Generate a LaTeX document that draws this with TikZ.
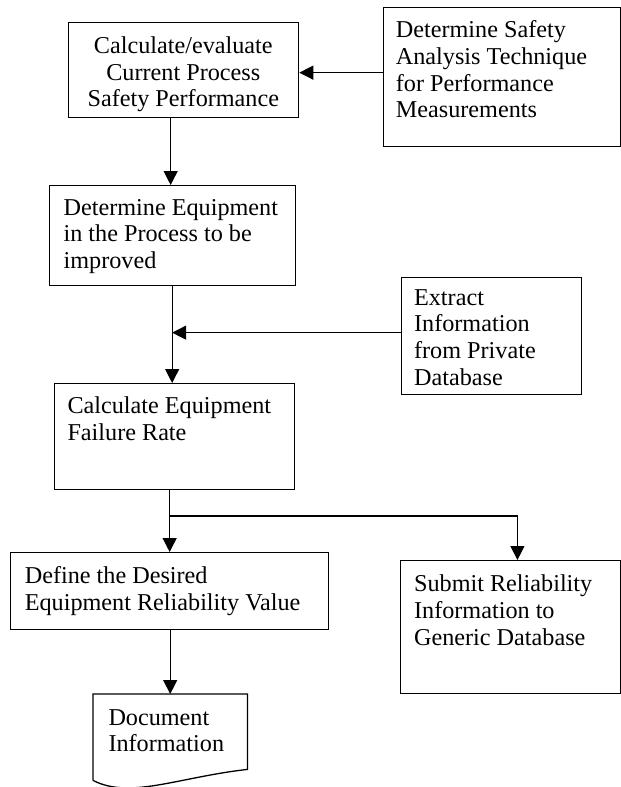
\documentclass[tikz,border=0pt]{standalone}
\usepackage{fontspec}
\setmainfont{Liberation Serif}
\usetikzlibrary{arrows.meta}
\begin{document}
\begin{tikzpicture}[x=1pt, y=-1pt,
  box/.style={draw, line width=1.3pt, inner sep=0pt, anchor=north west},
  txt/.style={inner sep=0pt, align=left, anchor=north west,
    font=\fontsize{24.2}{26.7}\selectfont},
  ctxt/.style={txt, align=center, anchor=north},
  flow/.style={line width=1.2pt, -{Triangle[length=14pt, width=14pt]}},
  link/.style={line width=1.2pt}]
\useasboundingbox (0,0) rectangle (621,787);

% process boxes
\node[box, minimum width=230pt, minimum height=95pt]  (b1) at (68,22) {};
\node[box, minimum width=237pt, minimum height=139pt] (b2) at (383,7) {};
\node[box, minimum width=246pt, minimum height=100pt] (b3) at (49,185) {};
\node[box, minimum width=240pt, minimum height=106pt] (b4) at (53.5,383) {};
\node[box, minimum width=180pt, minimum height=117pt] (b5) at (401,277) {};
\node[box, minimum width=318pt, minimum height=77pt]  (b6) at (10,552) {};
\node[box, minimum width=220pt, minimum height=133pt] (b7) at (400,560) {};

% document symbol (wavy bottom)
\node[inner sep=0pt, anchor=north west, minimum width=154pt, minimum height=86pt] (doc) at (93,694) {};
\draw[line width=1.3pt] (doc.south west) -- (doc.north west) -- (doc.north east)
  -- ([yshift=11pt]doc.south east)
  .. controls ([shift={(-70,-3)}]doc.south east) and ([shift={(37,19)}]doc.south west) .. (doc.south west);

% texts
\node[ctxt] (t1) at (183.3,34.6) {\strut Calculate/evaluate\\Current Process\\Safety Performance};
\node[txt] (t2) at (395.7,19) {\strut Determine Safety\\Analysis Technique\\for Performance\\Measurements};
\node[txt] (t3) at (63.4,196.3) {\strut Determine Equipment\\in the Process to be\\improved};
\node[txt] (t4) at (67.3,394.6) {\strut Calculate Equipment\\Failure Rate};
\node[txt] (t5) at (413.9,286.3) {\strut Extract\\Information\\from Private\\Database};
\node[txt] (t6) at (24.6,564.6) {\strut Define the Desired\\Equipment Reliability Value};
\node[txt] (t7) at (413.9,573) {\strut Submit Reliability\\Information to\\Generic Database};
\node[txt] (t8) at (108.3,706.3) {\strut Document\\Information};

% connectors
\draw[flow] ([yshift=4.5pt]b2.west) coordinate (s1) -- (s1 -| b1.east);
\draw[flow] ([xshift=-2pt]b3.north |- b1.south) -- ([xshift=-2pt]b3.north);
\draw[flow] ([xshift=-2pt]b4.north |- b3.south) -- ([xshift=-2pt]b4.north);
\draw[flow] ([yshift=3.5pt]b5.west) coordinate (s2) -- ([xshift=-2pt]s2 -| b4.north);
\draw[flow] (b6.north |- b4.south) -- (b6.north);
\coordinate (j) at ([yshift=36pt]b6.north);
\draw[flow] (j) -| ([xshift=6.8pt]b7.north);
\draw[flow] (doc.north |- b6.south) -- (doc.north);
\end{tikzpicture}
\end{document}
